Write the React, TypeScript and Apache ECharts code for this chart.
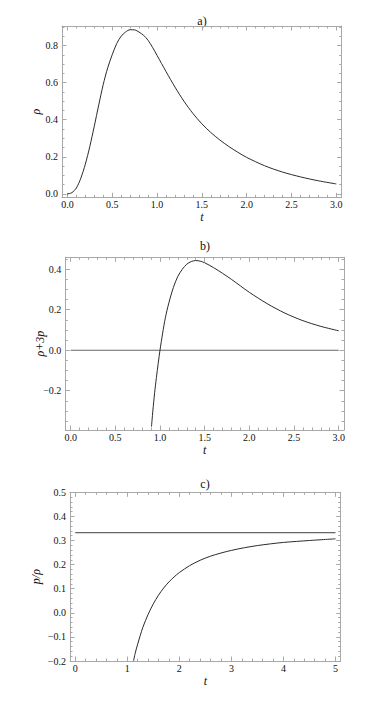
import React, { useEffect, useRef } from "react";
import * as echarts from "echarts";

// ---- data ----
// panel a) rho(t)
const rhoT = [0, 0.05, 0.1, 0.15, 0.2, 0.25, 0.3, 0.35, 0.4, 0.45, 0.5, 0.55, 0.6, 0.65, 0.7, 0.75, 0.8, 0.85, 0.9, 0.95, 1.0, 1.1, 1.2, 1.3, 1.4, 1.5, 1.6, 1.7, 1.8, 1.9, 2.0, 2.2, 2.4, 2.6, 2.8, 3.0];
const rhoV = [0, 0.007, 0.032, 0.085, 0.16, 0.255, 0.365, 0.48, 0.59, 0.68, 0.75, 0.81, 0.85, 0.873, 0.885, 0.884, 0.872, 0.855, 0.828, 0.79, 0.747, 0.66, 0.576, 0.5, 0.434, 0.378, 0.331, 0.291, 0.256, 0.225, 0.197, 0.152, 0.118, 0.092, 0.071, 0.054];
// panel b) rho + 3p
const bT = [0.905, 0.92, 0.94, 0.96, 0.98, 1.0, 1.03, 1.06, 1.1, 1.15, 1.2, 1.25, 1.3, 1.35, 1.4, 1.45, 1.5, 1.6, 1.7, 1.8, 1.9, 2.0, 2.2, 2.4, 2.6, 2.8, 3.0];
const bV = [-0.377, -0.3, -0.21, -0.135, -0.065, 0, 0.085, 0.16, 0.235, 0.31, 0.365, 0.4, 0.425, 0.438, 0.443, 0.44, 0.432, 0.408, 0.38, 0.35, 0.318, 0.286, 0.23, 0.183, 0.146, 0.118, 0.096];
const bZeroT = [0, 3];
const bZeroV = [0, 0];
// panel c) p / rho
const cT = [1.12, 1.15, 1.2, 1.3, 1.4, 1.5, 1.6, 1.7, 1.8, 1.9, 2.0, 2.2, 2.4, 2.6, 2.8, 3.0, 3.25, 3.5, 3.75, 4.0, 4.5, 5.0];
const cV = [-0.2, -0.17, -0.13, -0.06, -0.007, 0.037, 0.073, 0.103, 0.128, 0.149, 0.167, 0.196, 0.218, 0.235, 0.248, 0.259, 0.27, 0.279, 0.286, 0.292, 0.3, 0.307];
const cLineT = [0, 5];
const cLineV = [0.333, 0.333];

// tick labels
const aXTicks = [0, 0.5, 1.0, 1.5, 2.0, 2.5, 3.0];
const aYTicks = [0, 0.2, 0.4, 0.6, 0.8];
const bXTicks = [0, 0.5, 1.0, 1.5, 2.0, 2.5, 3.0];
const bYTicks = [-0.2, 0, 0.2, 0.4];
const cXTicks = [0, 1, 2, 3, 4, 5];
const cYTicks = [-0.2, -0.1, 0, 0.1, 0.2, 0.3, 0.4, 0.5];

const FRAME = "#a8a8a8";
const INK = "#2b2b2b";
const FONT = "Liberation Serif, DejaVu Serif, serif";

const zip = (xs: number[], ys: number[]) => xs.map((x, i) => [x, ys[i]]);

function minorTicks(majors: number[], n: number, min: number, max: number) {
  const step = (majors[1] - majors[0]) / n;
  const out: number[] = [];
  const i0 = Math.ceil(min / step - 1e-9);
  const i1 = Math.floor(max / step + 1e-9);
  for (let i = i0; i <= i1; i++) out.push(Math.round(i * step * 1e6) / 1e6);
  return out;
}

function fmtDec(v: number) {
  if (Math.abs(v) < 1e-9) return "0.0";
  const s = Math.abs(v).toFixed(1);
  return v < 0 ? "\u2212" + s : s;
}
function fmtInt(v: number) {
  return String(Math.round(v));
}

function axesFor(
  gi: number,
  min: number,
  max: number,
  majors: number[],
  nMinor: number,
  fmt: (v: number) => string,
  name: string,
  nameGap: number,
  sides: [string, string],
  isY: boolean
) {
  const minors = minorTicks(majors, nMinor, min, max);
  const base = (pos: string, vals: number[], len: number, line: boolean, label: boolean) => ({
    type: "value",
    gridIndex: gi,
    min,
    max,
    position: pos,
    axisLine: { show: line, onZero: false, lineStyle: { color: FRAME, width: 1 } },
    axisTick: { show: true, inside: true, length: len, customValues: vals, lineStyle: { color: FRAME, width: 1 } },
    axisLabel: label
      ? {
          show: true,
          customValues: majors,
          formatter: fmt,
          margin: isY ? 4 : 2,
          color: "#111",
          fontFamily: FONT,
          fontSize: 10,
        }
      : { show: false },
    splitLine: { show: false },
    minorTick: { show: false },
    name: label ? name : "",
    nameLocation: "middle",
    nameGap,
    nameMoveOverlap: false,
    nameTextStyle: { fontFamily: FONT, fontStyle: "italic", fontSize: 12, color: "#111" },
  });
  return [
    base(sides[0], majors, 4.5, true, true),
    base(sides[0], minors, 2.5, false, false),
    base(sides[1], majors, 4.5, true, false),
    base(sides[1], minors, 2.5, false, false),
  ];
}

export default function App() {
  const ref = useRef<HTMLDivElement>(null);
  useEffect(() => {
    if (!ref.current) return;
    const chart = echarts.init(ref.current, undefined, { renderer: "svg" });
    const grids = [
      { left: 62, top: 26, width: 279.7, height: 171.3 },
      { left: 65.3, top: 257.3, width: 278.7, height: 172.7 },
      { left: 70, top: 492.3, width: 270.7, height: 168.7 },
    ];
    const xAxis = [
      ...axesFor(0, -0.06, 3.06, aXTicks, 5, fmtDec, "t", 14, ["bottom", "top"], false),
      ...axesFor(1, -0.06, 3.06, bXTicks, 5, fmtDec, "t", 14, ["bottom", "top"], false),
      ...axesFor(2, -0.1, 5.1, cXTicks, 5, fmtInt, "t", 14, ["bottom", "top"], false),
    ];
    const yAxis = [
      ...axesFor(0, -0.018, 0.905, aYTicks, 4, fmtDec, "\u03c1", 20, ["left", "right"], true),
      ...axesFor(1, -0.394, 0.459, bYTicks, 4, fmtDec, "\u03c1+3p", 19, ["left", "right"], true),
      ...axesFor(2, -0.2, 0.5, cYTicks, 5, fmtDec, "p/\u03c1", 28, ["left", "right"], true),
    ];
    const line = (gi: number, data: number[][], color: string, width: number, smooth: number) => ({
      type: "line",
      xAxisIndex: gi * 4,
      yAxisIndex: gi * 4,
      data,
      showSymbol: false,
      symbol: "none",
      smooth,
      clip: true,
      lineStyle: { color, width },
      emphasis: { disabled: true },
      silent: true,
    });
    const title = (text: string, x: number, y: number) => ({
      type: "text",
      x,
      y,
      style: { text, fontFamily: FONT, fontSize: 12, fill: "#111", textAlign: "center", textVerticalAlign: "middle" },
    });
    chart.setOption({
      animation: false,
      backgroundColor: "#fff",
      grid: grids,
      xAxis,
      yAxis,
      series: [
        line(0, zip(rhoT, rhoV), INK, 1, 0.3),
        line(1, zip(bZeroT, bZeroV), "#666666", 1.2, 0),
        line(1, zip(bT, bV), INK, 1, 0.3),
        line(2, zip(cLineT, cLineV), "#666666", 1.2, 0),
        line(2, zip(cT, cV), INK, 1, 0.3),
      ],
      graphic: [title("a)", 202, 21), title("b)", 205, 246), title("c)", 205, 484)],
    });
    return () => chart.dispose();
  }, []);
  return <div ref={ref} style={{ position: "fixed", left: 0, top: 0, width: 373, height: 701 }} />;
}
